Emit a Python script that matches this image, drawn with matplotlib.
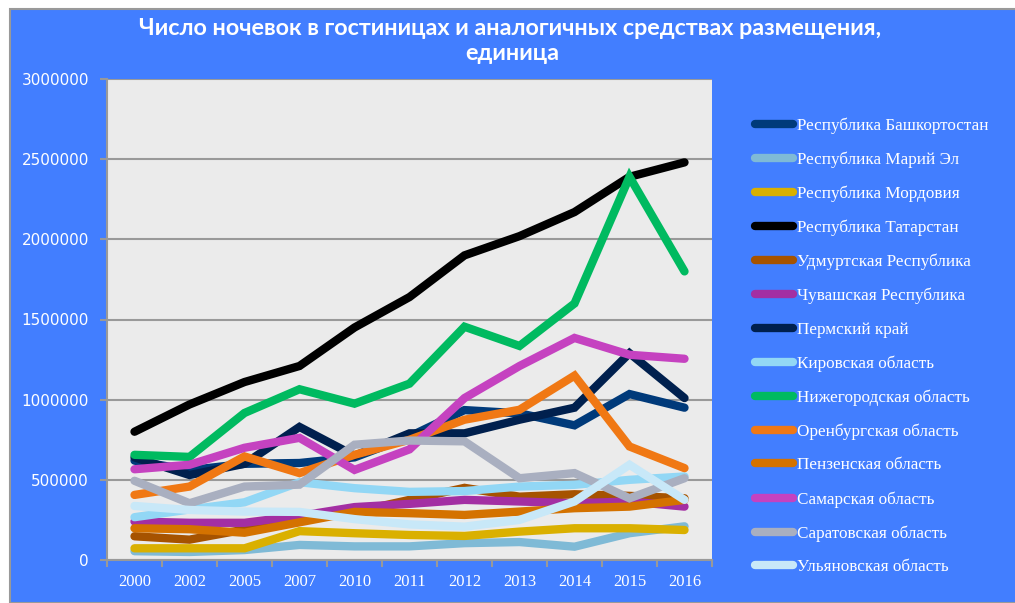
import numpy as np
import matplotlib.pyplot as plt
from matplotlib.patches import Rectangle

# Years (categories)
years = ['2000', '2002', '2005', '2007', '2010', '2011', '2012', '2013', '2014', '2015', '2016']

# Series values
bashkortostan = [620000, 560000, 600000, 605000, 640000, 770000, 935000, 915000, 840000, 1035000, 950000]
mari_el = [55000, 50000, 62000, 94000, 85000, 85000, 105000, 112000, 83000, 167000, 210000]
mordovia = [73000, 73000, 73000, 180000, 167000, 156000, 150000, 177000, 198000, 198000, 187000]
tatarstan = [800000, 970000, 1110000, 1210000, 1450000, 1640000, 1900000, 2020000, 2170000, 2390000, 2480000]
udmurtia = [148000, 127000, 190000, 250000, 300000, 375000, 450000, 395000, 410000, 400000, 385000]
chuvashia = [240000, 232000, 232000, 275000, 330000, 350000, 375000, 365000, 354000, 365000, 333000]
perm = [640000, 530000, 600000, 830000, 650000, 790000, 790000, 875000, 950000, 1290000, 1010000]
kirov = [267000, 315000, 360000, 485000, 448000, 425000, 430000, 458000, 469000, 500000, 521000]
nizhny = [656000, 643000, 917000, 1065000, 975000, 1100000, 1455000, 1335000, 1600000, 2390000, 1800000]
orenburg = [406000, 458000, 646000, 542000, 656000, 750000, 875000, 937000, 1150000, 708000, 573000]
penza = [198000, 192000, 170000, 235000, 300000, 292000, 281000, 302000, 323000, 333000, 375000]
samara = [566000, 594000, 700000, 762000, 562000, 690000, 1010000, 1210000, 1385000, 1280000, 1255000]
saratov = [494000, 354000, 458000, 470000, 719000, 745000, 740000, 510000, 542000, 385000, 510000]
ulyanovsk = [337000, 312000, 302000, 300000, 255000, 222000, 208000, 250000, 365000, 594000, 375000]

names = ['Республика Башкортостан', 'Республика Марий Эл', 'Республика Мордовия',
         'Республика Татарстан', 'Удмуртская Республика', 'Чувашская Республика',
         'Пермский край', 'Кировская область', 'Нижегородская область',
         'Оренбургская область', 'Пензенская область', 'Самарская область',
         'Саратовская область', 'Ульяновская область']
series = [bashkortostan, mari_el, mordovia, tatarstan, udmurtia, chuvashia, perm,
          kirov, nizhny, orenburg, penza, samara, saratov, ulyanovsk]
colors = ['#003A7A', '#7FBAD6', '#DAB000', '#000000', '#A65300', '#A32FA3', '#00204E',
          '#92D7F5', '#00BA60', '#F07814', '#D47200', '#C542C0', '#A9AFC0', '#C8E8F8']

blue = '#427EFF'

fig = plt.figure(figsize=(10.15, 6.03), dpi=100, facecolor='white')
# blue chart area with a grey border
fig.patches.append(Rectangle((10 / 1015, 0), 1.0, 1 - 9 / 603, transform=fig.transFigure,
                             facecolor=blue, edgecolor='#999999', linewidth=1.5, zorder=-10))

ax = fig.add_axes([107 / 1015, 1 - 560 / 603, 605 / 1015, 481 / 603])
ax.set_zorder(5)
ax.set_facecolor('#EBEBEB')

x = np.arange(len(years))
for name, vals, c in zip(names, series, colors):
    ax.plot(x, vals, color=c, lw=6, solid_capstyle='round', solid_joinstyle='miter', label=name)

ax.set_xlim(-0.5, len(years) - 0.5)
ax.set_ylim(0, 3000000)
ax.set_yticks(np.arange(0, 3000001, 500000))
ax.set_yticklabels([str(v) for v in range(0, 3000001, 500000)])
ax.set_xticks(x)
ax.set_xticklabels(years)
ax.set_xticks(np.arange(-0.5, len(years)), minor=True)
ax.yaxis.grid(True, color='#999999', lw=1.5)
ax.set_axisbelow(True)

for s in ['top', 'right']:
    ax.spines[s].set_visible(False)
for s in ['left', 'bottom']:
    ax.spines[s].set_color('#999999')
    ax.spines[s].set_linewidth(1.5)

ax.tick_params(axis='x', which='major', length=0, pad=10, colors='white')
ax.tick_params(axis='x', which='minor', length=5, width=1.5, color='#999999')
ax.tick_params(axis='y', length=5, width=1.5, color='#999999', labelcolor='white', pad=8)
for t in ax.get_xticklabels():
    t.set_fontfamily('Liberation Serif')
    t.set_fontsize(12)
for t in ax.get_yticklabels():
    t.set_fontfamily('DejaVu Sans')
    t.set_fontsize(11)

fig.text(0.503, 1 - 35 / 603, 'Число ночевок в гостиницах и аналогичных средствах размещения,',
         ha='center', va='baseline', color='white', fontsize=16.8, fontweight='bold', family='Lato')
fig.text(0.505, 1 - 60 / 603, 'единица',
         ha='center', va='baseline', color='white', fontsize=16.8, fontweight='bold', family='Lato')

leg = fig.legend(loc='upper left', bbox_to_anchor=(755 / 1015, 1 - 117 / 603), frameon=False,
                 prop={'family': 'Liberation Serif', 'size': 12.3}, handlelength=2.2,
                 handletextpad=0.25, labelspacing=1.03, borderaxespad=0, borderpad=0)
for t in leg.get_texts():
    t.set_color('white')
for h in leg.get_lines():
    h.set_linewidth(6)

fig.savefig('out.png', dpi=100, facecolor='white')
